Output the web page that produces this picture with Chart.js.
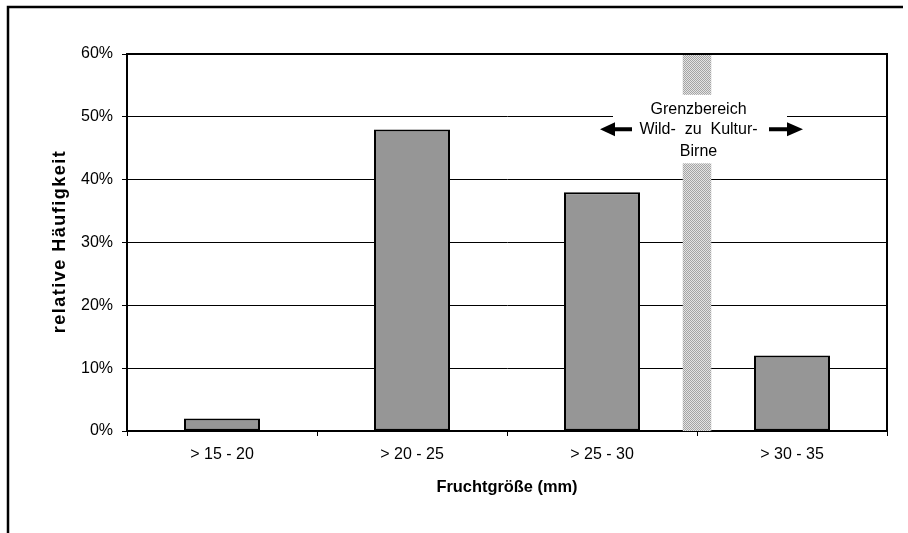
<!DOCTYPE html>
<html>
<head>
<meta charset="utf-8">
<script src="https://cdn.jsdelivr.net/npm/chart.js@4/dist/chart.umd.min.js"></script>
<style>
  html, body { margin: 0; padding: 0; background: #fff; }
  #wrap { width: 908px; height: 533px; position: relative; }
</style>
</head>
<body>
<div id="wrap"><canvas id="c"></canvas></div>
<script>
// ---- data ----
const categories = ['> 15 - 20', '> 20 - 25', '> 25 - 30', '> 30 - 35'];
const frequencies = [2, 48, 38, 12];
const yTickValues = [0, 10, 20, 30, 40, 50, 60];
const yAxisTitle = 'relative Häufigkeit';
const xAxisTitle = 'Fruchtgröße (mm)';
const noteLines = ['Grenzbereich', 'Wild-  zu  Kultur-', 'Birne'];

const FONT = '"Liberation Sans", Arial, sans-serif';

function makeHatch(ctx) {
  const p = document.createElement('canvas');
  p.width = 2; p.height = 2;
  const g = p.getContext('2d');
  g.fillStyle = '#e4e4e4'; g.fillRect(0, 0, 2, 2);
  g.fillStyle = '#a4a4a4'; g.fillRect(0, 0, 1, 1); g.fillRect(1, 1, 1, 1);
  return ctx.createPattern(p, 'repeat');
}

const overlay = {
  id: 'overlay',
  beforeDraw(chart) {
    const ctx = chart.ctx;
    ctx.save();
    ctx.fillStyle = '#fff';
    ctx.fillRect(0, 0, chart.width, chart.height);
    // outer frame (top and left)
    ctx.strokeStyle = '#000';
    ctx.lineWidth = 2.5;
    ctx.beginPath();
    ctx.moveTo(8, 540);
    ctx.lineTo(8, 7);
    ctx.lineTo(903, 7);
    ctx.stroke();
    ctx.restore();
  },
  afterDatasetsDraw(chart) {
    const ctx = chart.ctx;
    const x = chart.scales.x, y = chart.scales.y;
    const ca = chart.chartArea;
    const cx = (x.getPixelForValue(2) + x.getPixelForValue(3)) / 2;
    const catW = x.getPixelForValue(3) - x.getPixelForValue(2);
    ctx.save();
    // hatched band
    ctx.fillStyle = makeHatch(ctx);
    const bw = catW * 0.15;
    ctx.fillRect(cx - bw / 2, ca.top, bw, ca.bottom - ca.top);
    // white label box
    const boxTop = y.getPixelForValue(53.5);
    const boxBot = y.getPixelForValue(42.6);
    ctx.fillStyle = '#fff';
    ctx.fillRect(cx - 84, boxTop, 174, boxBot - boxTop);
    // text
    ctx.fillStyle = '#000';
    ctx.font = '16px ' + FONT;
    ctx.textAlign = 'center';
    ctx.textBaseline = 'alphabetic';
    const base = y.getPixelForValue(50);
    const offs = [-3, 17.5, 39];
    noteLines.forEach((t, i) => ctx.fillText(t, cx + 1.5, base + offs[i]));
    // arrows
    const ay = base + 12.5;
    function arrow(tip, headBase, shaftEnd) {
      ctx.beginPath();
      ctx.moveTo(tip, ay);
      ctx.lineTo(headBase, ay - 7);
      ctx.lineTo(headBase, ay - 2);
      ctx.lineTo(shaftEnd, ay - 2);
      ctx.lineTo(shaftEnd, ay + 2);
      ctx.lineTo(headBase, ay + 2);
      ctx.lineTo(headBase, ay + 7);
      ctx.closePath();
      ctx.fill();
    }
    arrow(cx - 97, cx - 82, cx - 65);
    arrow(cx + 106, cx + 90, cx + 72);
    ctx.restore();
  },
  afterDraw(chart) {
    const ctx = chart.ctx;
    const ca = chart.chartArea;
    ctx.save();
    // plot area border
    ctx.strokeStyle = '#000';
    ctx.lineWidth = 2;
    ctx.beginPath();
    ctx.moveTo(ca.left, ca.top);
    ctx.lineTo(ca.right, ca.top);
    ctx.lineTo(ca.right, ca.bottom);
    ctx.stroke();
    // y axis title
    ctx.translate(60, (ca.top + ca.bottom) / 2);
    ctx.rotate(-Math.PI / 2);
    ctx.font = 'bold 18px ' + FONT;
    if ('letterSpacing' in ctx) ctx.letterSpacing = '1.5px';
    ctx.textAlign = 'center';
    ctx.textBaseline = 'middle';
    ctx.fillStyle = '#000';
    ctx.fillText(yAxisTitle, 1, 0);
    ctx.restore();
  }
};

new Chart(document.getElementById('c'), {
  type: 'bar',
  data: {
    labels: categories,
    datasets: [{
      data: frequencies,
      backgroundColor: '#969696',
      borderColor: '#000',
      borderWidth: 2,
      borderSkipped: false,
      barPercentage: 0.4,
      categoryPercentage: 1
    }]
  },
  options: {
    responsive: true,
    maintainAspectRatio: false,
    animation: false,
    events: [],
    layout: { padding: { top: 54, right: 21, left: 0, bottom: 0 } },
    plugins: { legend: { display: false }, tooltip: { enabled: false } },
    scales: {
      x: {
        afterFit(s) { s.height = 102; },
        grid: { offset: true, drawOnChartArea: false, drawTicks: true, tickLength: 5, color: '#000', lineWidth: 1 },
        border: { display: true, color: '#000', width: 2 },
        ticks: { color: '#000', padding: 9, font: { family: FONT, size: 16 } },
        title: { display: true, text: xAxisTitle, color: '#000', padding: { top: 0, bottom: 36 }, font: { family: FONT, size: 16.4, weight: 'bold' } }
      },
      y: {
        min: 0, max: 60,
        afterFit(s) { s.width = 127; },
        afterBuildTicks(s) { s.ticks = yTickValues.map(v => ({ value: v })); },
        grid: { color: '#000', lineWidth: 1, tickLength: 5 },
        border: { display: true, color: '#000', width: 2 },
        ticks: { color: '#000', padding: 9, font: { family: FONT, size: 16 }, callback: v => v + '%' }
      }
    }
  },
  plugins: [overlay]
});
</script>
</body>
</html>
